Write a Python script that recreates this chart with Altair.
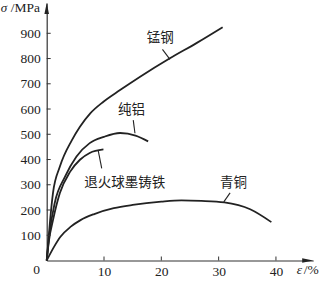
import altair as alt
import pandas as pd

# ---- data ----
mn_x = [0, 0.3, 0.6, 1.1, 2.3, 4.4, 5.8, 7.6, 9.9, 12.8, 16.3, 21.5, 26.2, 30.7]
mn_y = [0, 80, 160, 268, 372, 477, 530, 583, 629, 675, 728, 801, 862, 924]

al_x = [0, 0.5, 1.4, 3.2, 5.2, 7.5, 10.0, 12.8, 15.5, 17.7]
al_y = [0, 110, 228, 332, 412, 465, 490, 505, 495, 472]

fe_x = [0, 0.4, 1.1, 2.3, 4.1, 5.8, 7.5, 9.9]
fe_y = [0, 80, 160, 267, 352, 399, 426, 440]

br_x = [0, 1.3, 2.4, 4.2, 5.9, 8.3, 11.7, 15.0, 20.0, 23.5, 27.0, 31.0, 35.5, 39.2]
br_y = [0, 55, 94, 134, 160, 184, 207, 220, 233, 238, 236, 230, 203, 152]

label_text = ["锰钢", "纯铝", "退火球墨铸铁", "青铜"]
label_x = [19.8, 14.8, 13.6, 32.6]
label_y = [880, 596, 308, 308]

leader_x1 = [20.2, 15.1, 9.0, 32.0]
leader_y1 = [836, 556, 434, 268]
leader_x2 = [21.5, 15.4, 9.6, 30.9]
leader_y2 = [797, 504, 365, 232]

x_ticks = [10, 20, 30, 40]
y_ticks = [100, 200, 300, 400, 500, 600, 700, 800, 900]

X_MAX = 46.5
Y_MAX = 1020
W = 266.5
H = 257.5

rows = []
for name, xs, ys in [("锰钢", mn_x, mn_y), ("纯铝", al_x, al_y),
                     ("退火球墨铸铁", fe_x, fe_y), ("青铜", br_x, br_y)]:
    for a, b in zip(xs, ys):
        rows.append({"material": name, "strain": a, "stress": b})
curves = pd.DataFrame(rows)

labels = pd.DataFrame({"text": label_text, "x": label_x, "y": label_y})
leaders = pd.DataFrame({"x": leader_x1, "y": leader_y1, "x2": leader_x2, "y2": leader_y2})
xt = pd.DataFrame({"v": x_ticks})
yt = pd.DataFrame({"v": y_ticks})
one = pd.DataFrame({"a": [0]})

xscale = alt.Scale(domain=[0, X_MAX], nice=False, zero=False)
yscale = alt.Scale(domain=[0, Y_MAX], nice=False, zero=False)

SERIF = "Liberation Serif"
CJK = "Noto Sans CJK SC"
INK = "#222222"

XAXIS = alt.Axis(values=x_ticks, ticks=False, tickSize=0, grid=False, title=None,
                 labelOverlap=False, labelFont=SERIF, labelFontSize=13.5,
                 labelColor=INK, labelPadding=4, domainColor="#333333", domainWidth=1.2)
YAXIS = alt.Axis(values=y_ticks, ticks=False, tickSize=0, grid=False, title=None,
                 labelOverlap=False, labelFont=SERIF, labelFontSize=13.5,
                 labelColor=INK, labelPadding=6.5, domainColor="#333333", domainWidth=1.2)

lines = alt.Chart(curves).mark_line(
    color=INK, strokeWidth=1.8, interpolate="monotone"
).encode(
    x=alt.X("strain:Q", scale=xscale, axis=XAXIS),
    y=alt.Y("stress:Q", scale=yscale, axis=YAXIS),
    detail="material:N",
)

text = alt.Chart(labels).mark_text(
    font=CJK, fontSize=13.5, color=INK, align="center", baseline="middle"
).encode(
    x=alt.X("x:Q", scale=xscale, axis=XAXIS),
    y=alt.Y("y:Q", scale=yscale, axis=YAXIS),
    text="text:N"
)

lead = alt.Chart(leaders).mark_rule(color=INK, strokeWidth=1.1).encode(
    x=alt.X("x:Q", scale=xscale, axis=XAXIS),
    y=alt.Y("y:Q", scale=yscale, axis=YAXIS),
    x2="x2:Q", y2="y2:Q"
)

xtick_marks = alt.Chart(xt).mark_rule(color="#333333", strokeWidth=1).encode(
    x=alt.X("v:Q", scale=xscale, axis=XAXIS), y=alt.value(H - 4), y2=alt.value(H)
)
ytick_marks = alt.Chart(yt).mark_rule(color="#333333", strokeWidth=1).encode(
    y=alt.Y("v:Q", scale=yscale, axis=YAXIS), x=alt.value(0), x2=alt.value(4)
)

arrow_y = alt.Chart(one).mark_point(
    shape="M0,-1L0.42,1L-0.42,1Z", size=121, filled=True, color="#222222",
    strokeWidth=0, opacity=1
).encode(x=alt.value(0), y=alt.value(5.5))

arrow_x = alt.Chart(one).mark_point(
    shape="M1,0L-1,0.42L-1,-0.42Z", size=121, filled=True, color="#222222",
    strokeWidth=0, opacity=1
).encode(x=alt.value(W - 5.5), y=alt.value(H))

zero_lbl = alt.Chart(one).mark_text(
    text="0", font=SERIF, fontSize=13.5, color=INK, align="center", baseline="middle"
).encode(x=alt.value(-10), y=alt.value(H + 9.5))

sig = alt.Chart(one).mark_text(
    text="σ", font=SERIF, fontSize=13, fontStyle="italic", color=INK,
    align="left", baseline="middle"
).encode(x=alt.value(-46), y=alt.value(5))
mpa = alt.Chart(one).mark_text(
    text="/MPa", font=SERIF, fontSize=13.5, color=INK,
    align="left", baseline="middle"
).encode(x=alt.value(-36), y=alt.value(5))

eps = alt.Chart(one).mark_text(
    text="ε", font=SERIF, fontSize=13.5, fontStyle="italic", color=INK,
    align="left", baseline="middle"
).encode(x=alt.value(250), y=alt.value(H + 9.5))
pct = alt.Chart(one).mark_text(
    text="/%", font=SERIF, fontSize=13.5, color=INK,
    align="left", baseline="middle"
).encode(x=alt.value(257), y=alt.value(H + 9.5))

chart = alt.layer(
    lines, lead, text, xtick_marks, ytick_marks, arrow_y, arrow_x,
    zero_lbl, sig, mpa, eps, pct
).properties(
    width=W, height=H,
    autosize=alt.AutoSizeParams(type="none"),
    padding={"left": 46.7, "top": 3, "right": 10.8, "bottom": 21.5},
    background="white",
).configure_view(strokeWidth=0).configure_axis(labelOverlap=False)

chart.save("out.html", embed_options={"renderer": "svg", "actions": False})
